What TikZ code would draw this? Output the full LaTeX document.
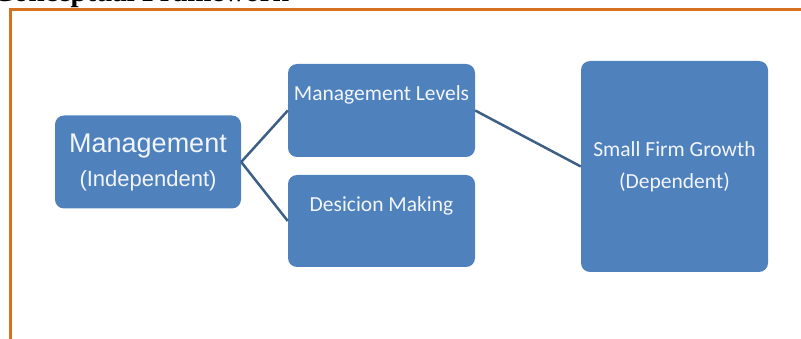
\documentclass[tikz,border=0pt]{standalone}
\usepackage{fontspec}
\setmainfont{Carlito}
\newfontfamily\arialfont{Liberation Sans}
\newfontfamily\timesfont{Liberation Serif}
\definecolor{boxblue}{HTML}{4F81BD}
\definecolor{boxtext}{HTML}{F2F5FB}
\definecolor{linkblue}{HTML}{3D5F86}
\definecolor{frameorange}{HTML}{D5711F}

\begin{document}
\begin{tikzpicture}[x=1pt,y=-1pt,
		box/.style={fill=boxblue,rounded corners=9pt,text=boxtext,align=center,inner sep=0pt,
			font=\fontsize{21.5}{26}\selectfont},
		link/.style={draw=linkblue,line width=2.5pt},
		frame/.style={draw=frameorange,line width=3pt}]
		\useasboundingbox (0,0) rectangle (801,339);
		% title, cut off by the page edge
		\node[anchor=base west,inner sep=0pt,font=\timesfont\bfseries\fontsize{29}{34}\selectfont] (title) at (-7,1.5) {Conceptual Framework};
		\draw[frame] (10,345) -- (10,10) -- (810,10);
		% boxes
		\node[box,minimum width=186pt,minimum height=93pt] (mgmt) at (148,162)
			{{\arialfont\fontsize{27}{32}\selectfont Management}\\[8pt]{\arialfont\fontsize{22}{26}\selectfont (Independent)}};
		\node[box,minimum width=187pt,minimum height=93pt,text depth=34pt] (levels) at (381.5,110.5) {Management Levels};
		\node[box,minimum width=187pt,minimum height=92pt,text depth=34pt] (decision) at (381.5,221) {Desicion Making};
		\node[box,minimum width=187pt,minimum height=211pt] (growth) at (674.5,166.5)
			{Small Firm Growth\\[6pt](Dependent)};
		% connectors
		\draw[link] (mgmt.east) -- (levels.west);
		\draw[link] (mgmt.east) -- (decision.west);
		\draw[link] (levels.east) -- (growth.west);
	\end{tikzpicture}
\end{document}
